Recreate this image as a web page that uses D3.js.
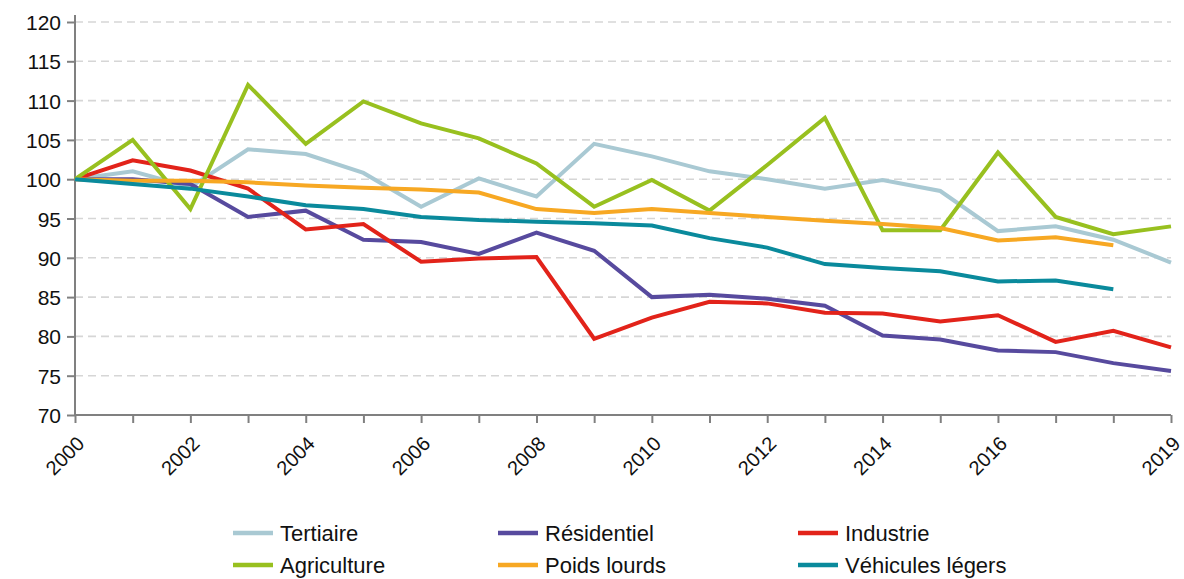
<!DOCTYPE html>
<html><head><meta charset="utf-8">
<script src="https://cdn.jsdelivr.net/npm/d3@7"></script>
<style>body{margin:0;background:#fff}svg{display:block}text{font-family:"Liberation Sans",Arial,sans-serif;fill:#111}</style>
</head><body><svg id="c" width="1184" height="579"></svg>
<script>
const years = d3.range(2000, 2020);
const xTickLabels = [2000, 2002, 2004, 2006, 2008, 2010, 2012, 2014, 2016, 2019];
const yTicks = [70, 75, 80, 85, 90, 95, 100, 105, 110, 115, 120];

const tertiaire = [100, 101.0, 99.0, 103.8, 103.2, 100.8, 96.5, 100.1, 97.8, 104.5, 102.9, 101.0, 100.0, 98.8, 99.9, 98.5, 93.4, 94.0, 92.3, 89.4];
const residentiel = [100, 100.0, 99.4, 95.2, 96.0, 92.3, 92.0, 90.5, 93.2, 90.9, 85.0, 85.3, 84.8, 83.9, 80.1, 79.6, 78.2, 78.0, 76.6, 75.6];
const industrie = [100, 102.4, 101.1, 98.8, 93.6, 94.3, 89.5, 89.9, 90.1, 79.7, 82.4, 84.4, 84.2, 83.0, 82.9, 81.9, 82.7, 79.3, 80.7, 78.6];
const agriculture = [100, 105.0, 96.2, 112.0, 104.5, 109.9, 107.1, 105.2, 102.0, 96.5, 99.9, 96.0, 101.8, 107.8, 93.5, 93.5, 103.4, 95.2, 93.0, 94.0];
const poidsLourds = [100, 99.8, 99.8, 99.6, 99.2, 98.9, 98.7, 98.3, 96.2, 95.7, 96.2, 95.7, 95.2, 94.7, 94.3, 93.8, 92.2, 92.6, 91.6, null];
const vehiculesLegers = [100, 99.4, 98.8, 97.8, 96.7, 96.2, 95.2, 94.8, 94.6, 94.4, 94.1, 92.5, 91.3, 89.2, 88.7, 88.3, 87.0, 87.1, 86.0, null];

const seriesNames = ["Tertiaire", "Résidentiel", "Industrie", "Agriculture", "Poids lourds", "Véhicules légers"];
const seriesValues = [tertiaire, residentiel, industrie, agriculture, poidsLourds, vehiculesLegers];
const seriesColors = ["#a9c9d3", "#574a9e", "#e2231a", "#98c01f", "#f7a823", "#0a8a9c"];

const svg = d3.select("#c");
const x = d3.scaleLinear().domain([2000, 2019]).range([75, 1171]);
const y = d3.scaleLinear().domain([70, 120]).range([415, 22]);

// gridlines
svg.append("g").selectAll("line").data(yTicks.filter(v => v > 70)).join("line")
  .attr("x1", x(2000)).attr("x2", x(2019))
  .attr("y1", d => y(d)).attr("y2", d => y(d))
  .attr("stroke", "#d6d6d6").attr("stroke-width", 1.6).attr("stroke-dasharray", "8,5");

// y axis
const yAxis = d3.axisLeft(y).tickValues(yTicks).tickSize(8).tickPadding(6).tickFormat(d3.format("d"));
const gy = svg.append("g").attr("transform", `translate(${x(2000)},0)`).call(yAxis);
gy.select(".domain").remove();
gy.append("line").attr("x1", 0).attr("x2", 0).attr("y1", 15).attr("y2", y(70)).attr("stroke", "#808080").attr("stroke-width", 2);
gy.selectAll(".tick line").attr("stroke", "#808080").attr("stroke-width", 2);
gy.selectAll(".tick text").style("font-size", "21px").attr("dy", "0.36em").attr("fill", "#111");

// x axis
const xAxis = d3.axisBottom(x).tickValues(years).tickSize(8)
  .tickFormat(d => xTickLabels.includes(d) ? String(d) : "");
const gx = svg.append("g").attr("transform", `translate(0,${y(70)})`).call(xAxis);
gx.select(".domain").remove();
gx.append("line").attr("x1", x(2000)).attr("x2", x(2019)).attr("y1", 0).attr("y2", 0).attr("stroke", "#808080").attr("stroke-width", 2);
gx.selectAll(".tick line").attr("stroke", "#808080").attr("stroke-width", 2);
gx.selectAll(".tick text").style("font-size", "20px").attr("fill", "#111")
  .attr("text-anchor", "end").attr("dy", null).attr("y", null)
  .attr("transform", "translate(10,30) rotate(-45)");

// lines
const line = d3.line().defined(d => d[1] != null).x(d => x(d[0])).y(d => y(d[1]));
seriesValues.forEach((vals, i) => {
  svg.append("path").datum(years.map((yr, j) => [yr, vals[j]]))
    .attr("d", line).attr("fill", "none").attr("stroke", seriesColors[i])
    .attr("stroke-width", 4).attr("stroke-linejoin", "miter");
});

// legend
const legX = [233, 498, 798];
const legY = [533, 565];
seriesNames.forEach((name, i) => {
  const col = i % 3, row = Math.floor(i / 3);
  const g = svg.append("g").attr("transform", `translate(${legX[col]},${legY[row]})`);
  g.append("line").attr("x1", 0).attr("x2", 40).attr("y1", 0).attr("y2", 0)
    .attr("stroke", seriesColors[i]).attr("stroke-width", 4.5);
  g.append("text").attr("x", 47).attr("y", 0).attr("dy", "0.35em").style("font-size", "22px").text(name);
});
</script></body></html>
